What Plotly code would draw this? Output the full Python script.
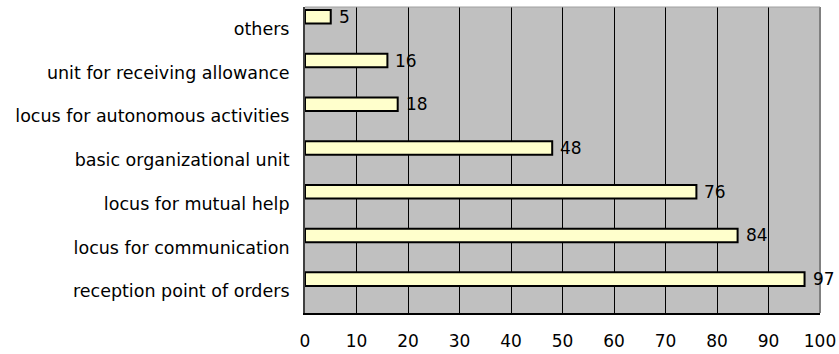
import plotly.graph_objects as go

# Survey responses: roles of the group, listed bottom to top
categories = [
    "reception point of orders",
    "locus for communication",
    "locus for mutual help",
    "basic organizational unit",
    "locus for autonomous activities",
    "unit for receiving allowance",
    "others",
]
values = [97, 84, 76, 48, 18, 16, 5]
x_ticks = [0, 10, 20, 30, 40, 50, 60, 70, 80, 90, 100]

FONT = "DejaVu Sans"

fig = go.Figure()
fig.add_trace(go.Bar(
    x=values,
    y=categories,
    orientation="h",
    width=0.31,
    offset=0.12,
    marker=dict(color="#ffffcc", line=dict(color="#000000", width=2)),
    hoverinfo="x+y",
))

# value labels to the right of each bar
for cat, v in zip(categories, values):
    fig.add_annotation(
        x=v, y=cat, text=str(v), showarrow=False,
        xanchor="left", yanchor="middle", xshift=6, yshift=12,
        font=dict(family=FONT, size=17, color="#000000"),
    )

fig.update_layout(
    width=839, height=354,
    margin=dict(l=305, r=19, t=7, b=41),
    paper_bgcolor="#ffffff",
    plot_bgcolor="#c0c0c0",
    showlegend=False,
    font=dict(family=FONT, size=17, color="#000000"),
)
fig.update_xaxes(
    range=[0, 100],
    tickvals=x_ticks,
    ticktext=[str(t) for t in x_ticks],
    showgrid=True, gridcolor="#000000", gridwidth=1,
    showline=True, linecolor="#000000", linewidth=2, mirror=False,
    zeroline=False,
    ticks="", ticklabelstandoff=12,
    tickfont=dict(family=FONT, size=17),
    automargin=False,
    fixedrange=True,
)
fig.update_yaxes(
    categoryorder="array", categoryarray=categories,
    showgrid=False,
    showline=True, linecolor="#404040", linewidth=2,
    ticks="", ticklabelstandoff=10,
    tickfont=dict(family=FONT, size=17.5),
    range=[-0.5, 6.5],
    automargin=False,
    fixedrange=True,
)
# right and top border of the plot area
fig.add_shape(type="line", xref="paper", yref="paper", x0=1, x1=1, y0=0, y1=1,
              line=dict(color="#808080", width=2))
fig.add_shape(type="line", xref="paper", yref="paper", x0=0, x1=1, y0=1, y1=1,
              line=dict(color="#a0a0a0", width=1))

fig.write_html("out.html")
